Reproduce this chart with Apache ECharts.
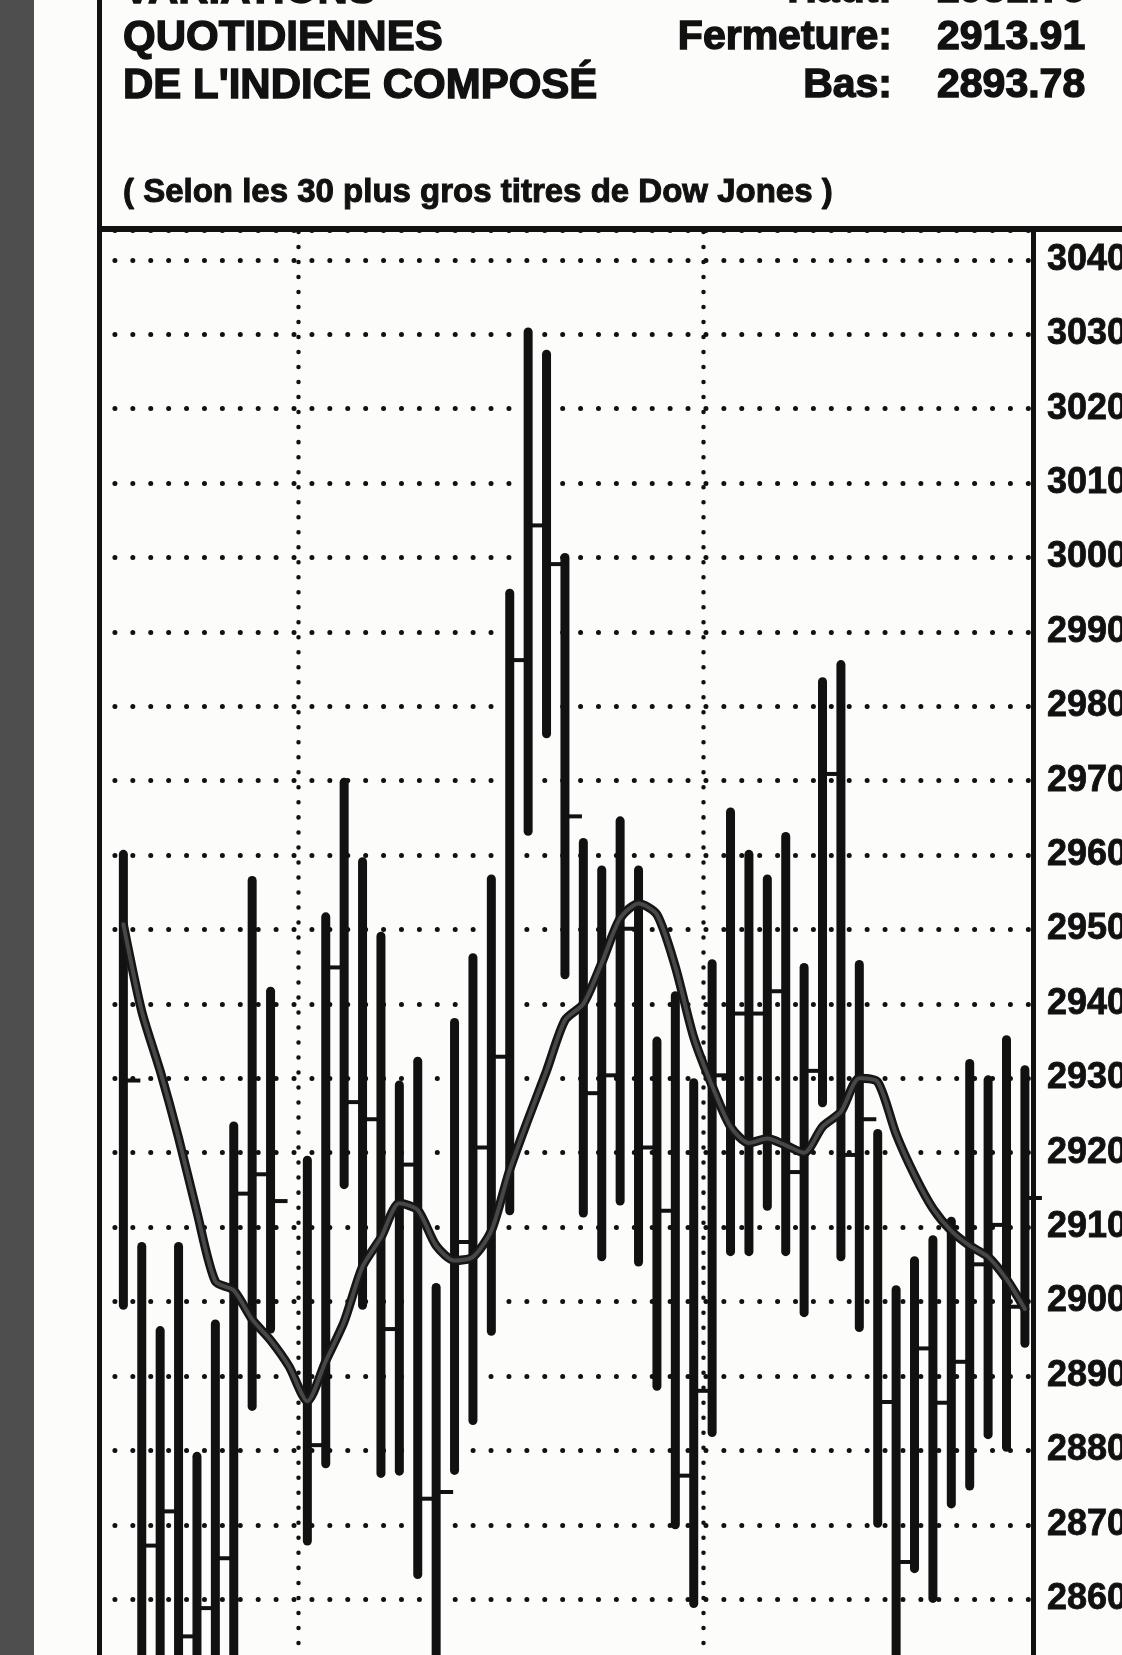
<!DOCTYPE html>
<html>
<head>
<meta charset="utf-8">
<script src="https://cdn.jsdelivr.net/npm/echarts/dist/echarts.min.js"></script>
<style>
html,body{margin:0;padding:0;background:#fcfcfb;}
#chart{width:1122px;height:1655px;}
</style>
</head>
<body>
<div id="chart"></div>
<script>
// Weekday slots, 18 March – 24 May 1991 (29 March: no session)
const dates = [
  '18/03','19/03','20/03','21/03','22/03','25/03','26/03','27/03','28/03','29/03',
  '01/04','02/04','03/04','04/04','05/04','08/04','09/04','10/04','11/04','12/04',
  '15/04','16/04','17/04','18/04','19/04','22/04','23/04','24/04','25/04','26/04',
  '29/04','30/04','01/05','02/05','03/05','06/05','07/05','08/05','09/05','10/05',
  '13/05','14/05','15/05','16/05','17/05','20/05','21/05','22/05','23/05','24/05'
];
const highs = [
  2960.7, 2908.0, 2896.7, 2908.0, 2879.8, 2897.6, 2924.2, 2957.2, 2942.3, null,
  2919.6, 2952.3, 2970.4, 2959.7, 2949.7, 2929.7, 2932.9, 2902.5, 2938.1, 2946.8,
  2957.4, 2995.8, 3030.9, 3027.9, 3000.6, 2962.3, 2958.6, 2965.2, 2958.6, 2935.6,
  2941.7, 2930.0, 2946.0, 2966.4, 2960.7, 2957.4, 2963.1, 2945.5, 2983.9, 2986.2,
  2945.9, 2923.2, 2902.2, 2906.1, 2908.9, 2911.4, 2932.6, 2930.4, 2935.8, 2931.75
];
const lows = [
  2898.9, 2846.0, 2846.0, 2846.0, 2846.0, 2846.0, 2846.0, 2885.3, 2895.7, null,
  2867.2, 2877.6, 2915.1, 2898.9, 2876.3, 2876.6, 2862.7, 2846.0, 2876.7, 2883.4,
  2895.4, 2911.6, 2962.6, 2975.7, 2943.3, 2911.3, 2905.4, 2912.9, 2904.7, 2888.0,
  2869.4, 2858.8, 2881.8, 2906.1, 2906.1, 2912.2, 2906.1, 2897.9, 2926.1, 2905.4,
  2895.9, 2869.6, 2846.0, 2863.5, 2859.5, 2872.2, 2874.6, 2881.5, 2879.8, 2893.78
];
const closes = [
  2929.7, 2867.2, 2871.8, 2855.0, 2858.8, 2865.5, 2914.5, 2917.1, 2913.5, null,
  2880.7, 2944.9, 2926.8, 2924.5, 2896.3, 2918.4, 2873.5, 2874.4, 2908.0, 2920.7,
  2932.9, 2986.2, 3004.3, 2999.1, 2965.2, 2928.0, 2930.4, 2950.1, 2920.7, 2912.2,
  2876.6, 2888.0, 2930.4, 2938.7, 2938.7, 2941.7, 2917.4, 2931.0, 2970.9, 2919.7,
  2924.5, 2886.5, 2865.0, 2893.7, 2886.4, 2891.9, 2905.0, 2910.3, 2899.3, 2913.91
];
const movingAvg = [
  2950.7, 2939.0, 2931.0, 2922.0, 2912.0, 2902.7, 2901.5, 2897.6, 2894.8, 2891.3,
  2886.6, 2892.0, 2897.3, 2904.7, 2908.6, 2913.2, 2912.3, 2907.5, 2905.5, 2906.0,
  2909.5, 2917.7, 2924.5, 2931.0, 2937.8, 2940.0, 2945.5, 2951.5, 2953.5, 2952.0,
  2945.0, 2935.5, 2929.0, 2923.5, 2921.3, 2921.9, 2921.0, 2920.0, 2923.5, 2925.5,
  2930.0, 2929.5, 2922.5, 2917.0, 2912.5, 2909.5, 2907.5, 2906.0, 2903.0, 2899.0
];
// month boundaries (between 29/03 and 01/04, between 30/04 and 01/05)
const monthBreaks = [9.5, 31.5];
const yMin = 2840, yMax = 3044, yStep = 10;

const headerLeft = ['VARIATIONS', 'QUOTIDIENNES', "DE L'INDICE COMPOSÉ"];
const headerKeys = ['Haut:', 'Fermeture:', 'Bas:'];
const headerVals = ['2931.75', '2913.91', '2893.78'];
const subtitle = '( Selon les 30 plus gros titres de Dow Jones )';

const INK = '#111111';
const hlc = [];
dates.forEach((d, i) => {
  if (highs[i] != null) hlc.push([i, highs[i], lows[i], closes[i]]);
});
const ma = movingAvg.map((v, i) => [i, v]);

const chart = echarts.init(document.getElementById('chart'), null, {renderer: 'canvas'});
const FONT = '"Liberation Sans", Arial, sans-serif';
const lineY = [-9, 38, 86];
const graphics = [
  {type: 'rect', left: 0, top: 0, shape: {width: 34, height: 1655}, style: {fill: '#4e4e4e'}, z: 0},
  {type: 'rect', left: 97, top: 0, shape: {width: 5, height: 1655}, style: {fill: INK}, z: 10},
  {type: 'rect', left: 97, top: 226, shape: {width: 1030, height: 6}, style: {fill: INK}, z: 10}
];
const heavy = {stroke: INK, lineWidth: 1.4};
headerLeft.forEach((t, k) => graphics.push({
  type: 'text', x: 123, y: lineY[k], z: 10,
  style: Object.assign({text: t, font: 'bold 42px ' + FONT, fill: INK, textAlign: 'left', textVerticalAlign: 'middle'}, heavy)
}));
headerKeys.forEach((t, k) => graphics.push({
  type: 'text', x: 892, y: lineY[k], z: 10,
  style: Object.assign({text: t, font: 'bold 41px ' + FONT, fill: INK, textAlign: 'right', textVerticalAlign: 'middle'}, heavy)
}));
headerVals.forEach((t, k) => graphics.push({
  type: 'text', x: 937, y: lineY[k], z: 10,
  style: Object.assign({text: t, font: 'bold 41px ' + FONT, fill: INK, textAlign: 'left', textVerticalAlign: 'middle'}, heavy)
}));
graphics.push({
  type: 'text', x: 123, y: 193, z: 10,
  style: Object.assign({text: subtitle, font: 'bold 33px ' + FONT, fill: INK, textAlign: 'left', textVerticalAlign: 'middle'}, {stroke: INK, lineWidth: 1})
});

chart.setOption({
  animation: false,
  backgroundColor: '#fcfcfb',
  grid: {left: 100, top: 230, width: 933, height: 1518, containLabel: false, outerBoundsMode: 'none'},
  xAxis: {type: 'value', min: -1.27, max: 49.44, show: false},
  yAxis: {
    type: 'value', position: 'right', min: yMin, max: yMax, interval: yStep,
    axisLine: {show: true, onZero: false, lineStyle: {color: INK, width: 5}},
    axisTick: {show: false},
    axisLabel: {
      show: true, fontSize: 36, fontWeight: 'bold', fontFamily: FONT, color: INK, margin: 14,
      showMaxLabel: false, showMinLabel: false,
      textBorderColor: INK, textBorderWidth: 0.8,
      formatter: v => (v % 10 === 0 ? String(v) : '')
    },
    splitLine: {show: true, lineStyle: {color: INK, width: 5, type: [0.01, 17.9], cap: 'round', dashOffset: 3}}
  },
  graphic: graphics,
  series: [
    {
      type: 'custom',
      data: hlc,
      encode: {x: 0, y: [1, 2, 3]},
      z: 3,
      renderItem: function (params, api) {
        const x = api.value(0);
        const pH = api.coord([x, api.value(1)]);
        const pL = api.coord([x, api.value(2)]);
        const pC = api.coord([x, api.value(3)]);
        const w = 9;
        return {
          type: 'group',
          children: [
            {type: 'line', shape: {x1: pH[0], y1: pH[1] + w / 2, x2: pL[0], y2: pL[1] - w / 2},
             style: {stroke: INK, lineWidth: w, lineCap: 'round'}},
            {type: 'line', shape: {x1: pC[0], y1: pC[1], x2: pC[0] + 17, y2: pC[1]},
             style: {stroke: INK, lineWidth: 4}}
          ]
        };
      }
    },
    {
      type: 'line', data: ma, showSymbol: false, smooth: 0.25, z: 4,
      lineStyle: {color: '#151515', width: 9, cap: 'round', join: 'round'},
      markLine: {
        silent: true, symbol: 'none', label: {show: false},
        lineStyle: {color: INK, width: 4.5, type: [0.01, 15], cap: 'round'},
        data: monthBreaks.map(v => ({xAxis: v}))
      }
    },
    {
      type: 'line', data: ma, showSymbol: false, smooth: 0.25, z: 5,
      lineStyle: {color: '#474747', width: 4, cap: 'round', join: 'round'}
    }
  ]
});
</script>
</body>
</html>
